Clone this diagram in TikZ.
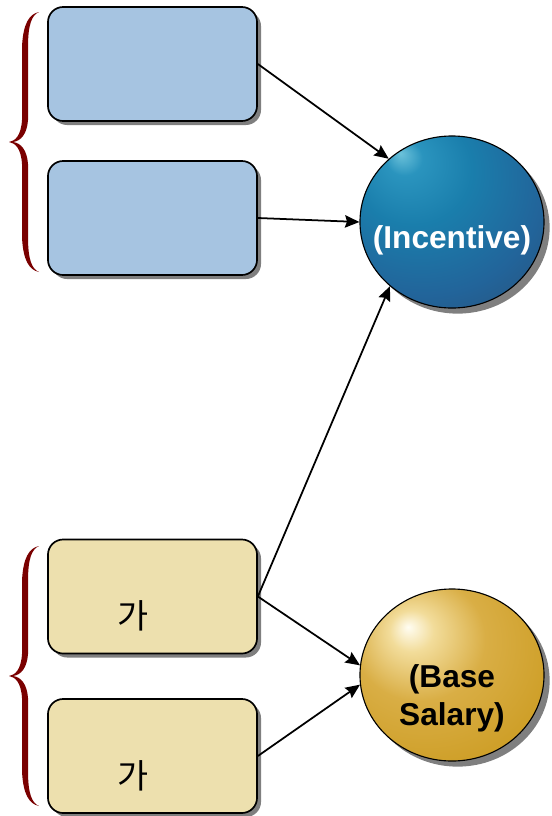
\documentclass[tikz,border=0pt]{standalone}
\usepackage{fontspec}
\setmainfont{Liberation Sans}
\newfontfamily\krfont{Noto Sans CJK KR}
\usetikzlibrary{positioning,shapes.geometric,shadows,arrows.meta}
\definecolor{BoxBlue}{HTML}{A6C4E1}
\definecolor{BoxSand}{HTML}{EDE0AE}
\definecolor{BraceRed}{HTML}{7A0000}
\definecolor{ShadowGray}{HTML}{7F7F7F}
% ball colours
\definecolor{IncHi}{HTML}{6CC2DA}
\definecolor{IncLight}{HTML}{2A94BE}
\definecolor{IncBody}{HTML}{1A7EAC}
\definecolor{IncMid}{HTML}{22649A}
\definecolor{IncEdge}{HTML}{2C4A6C}
\definecolor{IncDark}{HTML}{262E38}
\definecolor{SalHi}{HTML}{FFFDF2}
\definecolor{SalLight}{HTML}{F2DC9A}
\definecolor{SalBody}{HTML}{D9AE45}
\definecolor{SalMid}{HTML}{CFA02A}
\definecolor{SalEdge}{HTML}{C4940F}
\definecolor{SalDark}{HTML}{9E7508}
\pgfdeclareradialshading{IncentiveBall}{\pgfpoint{-14bp}{20bp}}{%
  color(0bp)=(IncHi); color(5bp)=(IncLight); color(16bp)=(IncBody);
  color(32bp)=(IncMid); color(50bp)=(IncEdge); color(68bp)=(IncDark)}
\pgfdeclareradialshading{SalaryBall}{\pgfpoint{-12bp}{14bp}}{%
  color(0bp)=(SalHi); color(6bp)=(SalLight); color(18bp)=(SalBody);
  color(33bp)=(SalMid); color(50bp)=(SalEdge); color(70bp)=(SalDark)}
\newcommand{\bigtxt}{\fontsize{22.5}{27}\selectfont}

\tikzset{
  panel/.style={draw=black, line width=1.2pt, rounded corners=0.38cm, minimum width=5.225cm, minimum height=2.85cm,
    inner sep=0pt, drop shadow={shadow xshift=1mm, shadow yshift=-1mm, fill=ShadowGray, opacity=1}},
  orb/.style={ellipse, draw=black, line width=0.8pt, minimum width=4.6cm, minimum height=4.3cm, inner sep=0pt,
    drop shadow={shadow xshift=1.4mm, shadow yshift=-1.4mm, fill=ShadowGray, opacity=1}},
  link/.style={-{Stealth[length=3.6mm, width=3.1mm, inset=0.5mm]}, line width=1.25pt},
  brace/.pic={
    \fill[BraceRed] (30,0) .. controls (20,2) and (14,12) .. (13,35) -- (13,108)
      .. controls (12,124) and (6,129) .. (0,130) .. controls (6,131) and (12,136) .. (13,152)
      -- (13,225) .. controls (14,248) and (20,258) .. (30,260)
      .. controls (23,257) and (19,248) .. (19,225) -- (19,152)
      .. controls (18,138) and (12,131) .. (4,130) .. controls (12,129) and (18,122) .. (19,108)
      -- (19,35) .. controls (19,12) and (23,3) .. (30,0) -- cycle;
  }
}

\begin{document}
\begin{tikzpicture}[x=0.025cm, y=-0.025cm]
  \useasboundingbox (0,0) rectangle (552,816);

  % Braces
  \pic at (9,12) {brace};
  \pic at (9,546) {brace};

  % Boxes
  \node[panel, fill=BoxBlue] (perf1) at (152.5,64) {};
  \node[panel, fill=BoxBlue] (perf2) at (152.5,218) {};
  \node[panel, fill=BoxSand] (base1) at (152.5,596.5) {};
  \node[panel, fill=BoxSand] (base2) at (152.5,756) {};
  \node[font=\krfont\fontsize{24}{28}\selectfont] (ga1) at (133,616) {가};
  \node[font=\krfont\fontsize{24}{28}\selectfont] (ga2) at (133,776) {가};

  % Balls
  \node[orb, shading=IncentiveBall] (incentive) at (452,222) {};
  \node[orb, shading=SalaryBall] (salary) at (452,675) {};
  \node[text=white, font=\bigtxt\bfseries] (inctext) at (452,240) {(Incentive)};
  \node[align=center, font=\bigtxt\bfseries] (saltext) at (452,698) {(Base\\Salary)};

  % Arrows
  \draw[link] (perf1.east) -- (incentive.135);
  \draw[link] (perf2.east) -- (incentive.west);
  \draw[link] (base1.east) -- (incentive.226);
  \draw[link] (base1.east) -- (salary.174);
  \draw[link] (base2.east) -- (salary.186);
\end{tikzpicture}
\end{document}
